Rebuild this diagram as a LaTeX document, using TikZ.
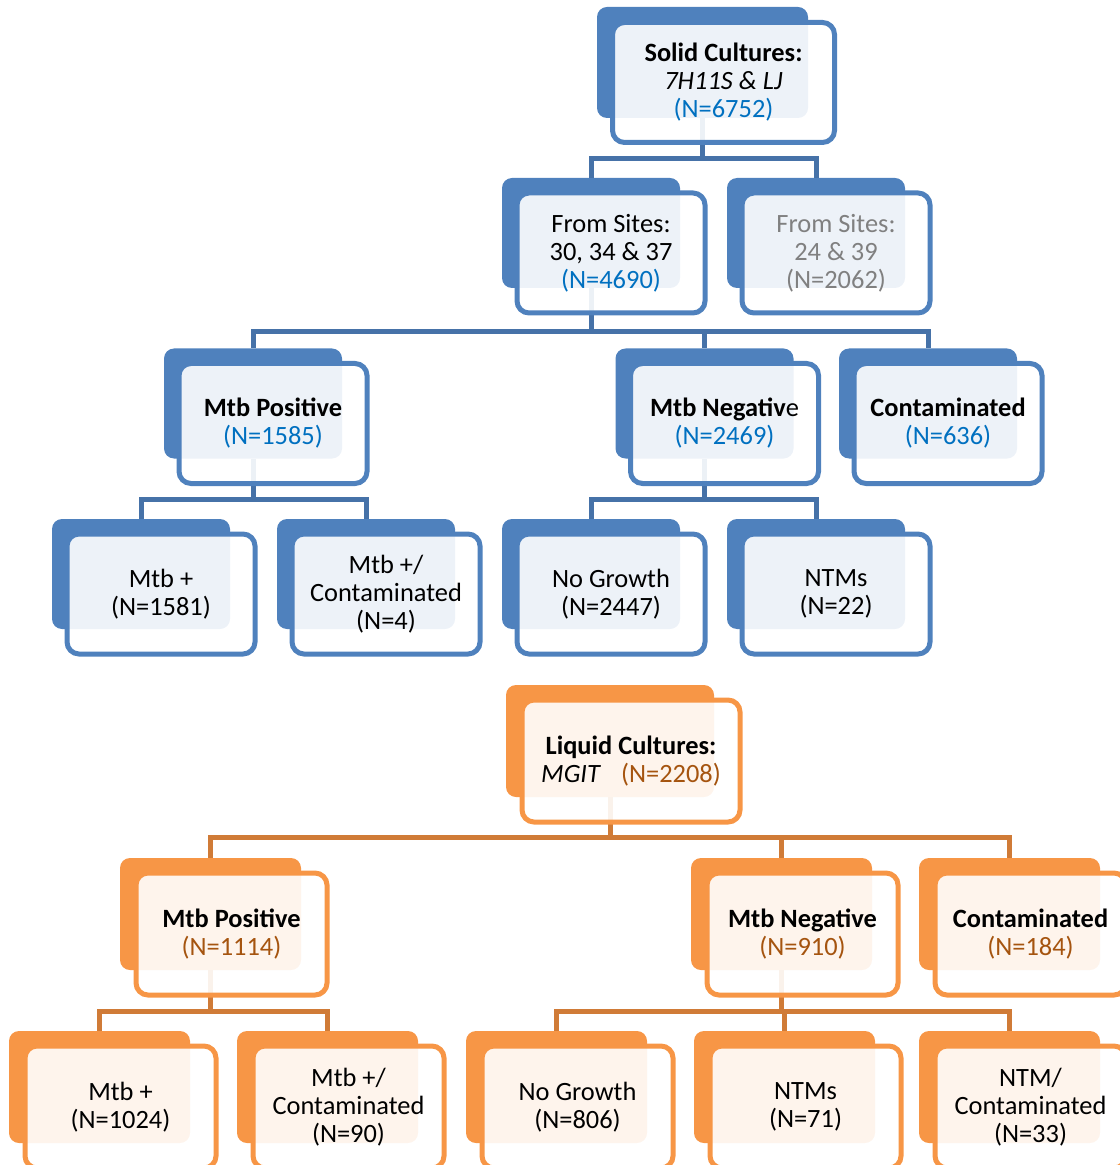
\documentclass[tikz,border=0pt]{standalone}
\usepackage{fontspec}
\setmainfont{Carlito}
\usetikzlibrary{positioning}
\tikzset{>=latex}
\definecolor{solidblue}{HTML}{4F81BD}
\definecolor{solidline}{HTML}{4672A8}
\definecolor{countblue}{HTML}{0070C0}
\definecolor{liqorange}{HTML}{F79646}
\definecolor{liqline}{HTML}{D07B37}
\definecolor{countbrown}{HTML}{A5540F}
\definecolor{sitegray}{HTML}{808080}

\begin{document}
\begin{tikzpicture}[x=0.5pt,y=-0.5pt,
  back/.style={rounded corners=5pt, inner sep=0pt, minimum width=89pt, minimum height=55pt},
  front/.style={rounded corners=6pt, inner sep=0pt, line width=2.5pt, fill=white, fill opacity=0.9, text opacity=1, align=center, font=\fontsize{13.2}{14}\selectfont, minimum width=94pt, minimum height=60pt},
  sback/.style={back, fill=solidblue},
  lback/.style={back, fill=liqorange, minimum width=90.5pt, minimum height=56pt},
  sfront/.style={front, draw=solidblue},
  lfront/.style={front, draw=liqorange, minimum width=95.5pt, minimum height=61pt},
  slink/.style={draw=solidline, line width=2.5pt},
  llink/.style={draw=liqline, line width=2.5pt}]
	\useasboundingbox (0,0) rectangle (1119,1165);
		\node[sback, minimum width=105.5pt, minimum height=55.5pt] (s0) at (702.5,62.5) {};
		\node[sback] (s1a) at (591,233) {};
		\node[sback] (s1b) at (816,233) {};
		\node[sback] (s2a) at (253,403.5) {};
		\node[sback] (s2b) at (704.5,403.5) {};
		\node[sback] (s2c) at (928,403.5) {};
		\node[sback] (s3a) at (141,574) {};
		\node[sback] (s3b) at (366,574) {};
		\node[sback] (s3c) at (591,574) {};
		\node[sback] (s3d) at (816,574) {};
		\node[lback, minimum width=104pt] (l0) at (610,741) {};
		\node[lback] (l1a) at (210.5,914) {};
		\node[lback] (l1b) at (781.5,914) {};
		\node[lback] (l1c) at (1009.5,914) {};
		\node[lback] (l2a) at (99.5,1087) {};
		\node[lback] (l2b) at (327.5,1087) {};
		\node[lback] (l2c) at (556.5,1087) {};
		\node[lback] (l2d) at (784.5,1087) {};
		\node[lback] (l2e) at (1009.5,1087) {};
		\path[slink]
			(s0.south) -- ++(0,40) -| (s1a.north)
			(s0.south) -- ++(0,40) -| (s1b.north)
			(s1a.south) -- ++(0,43) -| (s2a.north)
			(s1a.south) -- ++(0,43) -| (s2b.north)
			(s1a.south) -- ++(0,43) -| (s2c.north)
			(s2a.south) -- ++(0,41) -| (s3a.north)
			(s2a.south) -- ++(0,41) -| (s3b.north)
			(s2b.south) -- ++(0,41) -| (s3c.north)
			(s2b.south) -- ++(0,41) -| (s3d.north);
		\path[llink]
			(l0.south) -- ++(0,40) -| (l1a.north)
			(l0.south) -- ++(0,40) -| (l1b.north)
			(l0.south) -- ++(0,40) -| (l1c.north)
			(l1a.south) -- ++(0,41) -| (l2a.north)
			(l1a.south) -- ++(0,41) -| (l2b.north)
			(l1b.south) -- ++(0,41) -| (l2c.north)
			(l1b.south) -- ++(0,41) -| (l2d.north)
			(l1b.south) -- ++(0,41) -| (l2e.north);
		\node[sfront, minimum width=111pt] (s0f) at ([shift={(21,20)}]s0) {\textbf{Solid Cultures:}\\\textit{7H11S \& LJ}\\\textcolor{countblue}{(N=6752)}};
		\node[sfront] (s1af) at ([shift={(20,20)}]s1a) {From Sites:\\30, 34 \& 37\\\textcolor{countblue}{(N=4690)}};
		\node[sfront, text=sitegray] (s1bf) at ([shift={(20,20)}]s1b) {From Sites:\\24 \& 39\\(N=2062)};
		\node[sfront] (s2af) at ([shift={(20,20)}]s2a) {\textbf{Mtb Positive}\\\textcolor{countblue}{(N=1585)}};
		\node[sfront] (s2bf) at ([shift={(20,20)}]s2b) {\textbf{Mtb Negativ}e\\\textcolor{countblue}{(N=2469)}};
		\node[sfront] (s2cf) at ([shift={(20,20)}]s2c) {\textbf{Contaminated}\\\textcolor{countblue}{(N=636)}};
		\node[sfront] (s3af) at ([shift={(20,20)}]s3a) {Mtb +\\(N=1581)};
		\node[sfront] (s3bf) at ([shift={(20,20)}]s3b) {Mtb +/\\Contaminated\\(N=4)};
		\node[sfront] (s3cf) at ([shift={(20,20)}]s3c) {No Growth\\(N=2447)};
		\node[sfront] (s3df) at ([shift={(20,20)}]s3d) {NTMs\\(N=22)};
		\node[lfront, minimum width=109pt] (l0f) at ([shift={(21,20)}]l0) {\textbf{Liquid Cultures:}\\\textit{MGIT}\hspace{10pt}\textcolor{countbrown}{(N=2208)}};
		\node[lfront] (l1af) at ([shift={(21,20)}]l1a) {\textbf{Mtb Positive}\\\textcolor{countbrown}{(N=1114)}};
		\node[lfront] (l1bf) at ([shift={(21,20)}]l1b) {\textbf{Mtb Negative}\\\textcolor{countbrown}{(N=910)}};
		\node[lfront] (l1cf) at ([shift={(21,20)}]l1c) {\textbf{Contaminated}\\\textcolor{countbrown}{(N=184)}};
		\node[lfront] (l2af) at ([shift={(21,20)}]l2a) {Mtb +\\(N=1024)};
		\node[lfront] (l2bf) at ([shift={(21,20)}]l2b) {Mtb +/\\Contaminated\\(N=90)};
		\node[lfront] (l2cf) at ([shift={(21,20)}]l2c) {No Growth\\(N=806)};
		\node[lfront] (l2df) at ([shift={(21,20)}]l2d) {NTMs\\(N=71)};
		\node[lfront] (l2ef) at ([shift={(21,20)}]l2e) {NTM/\\Contaminated\\(N=33)};
	\end{tikzpicture}
\end{document}
